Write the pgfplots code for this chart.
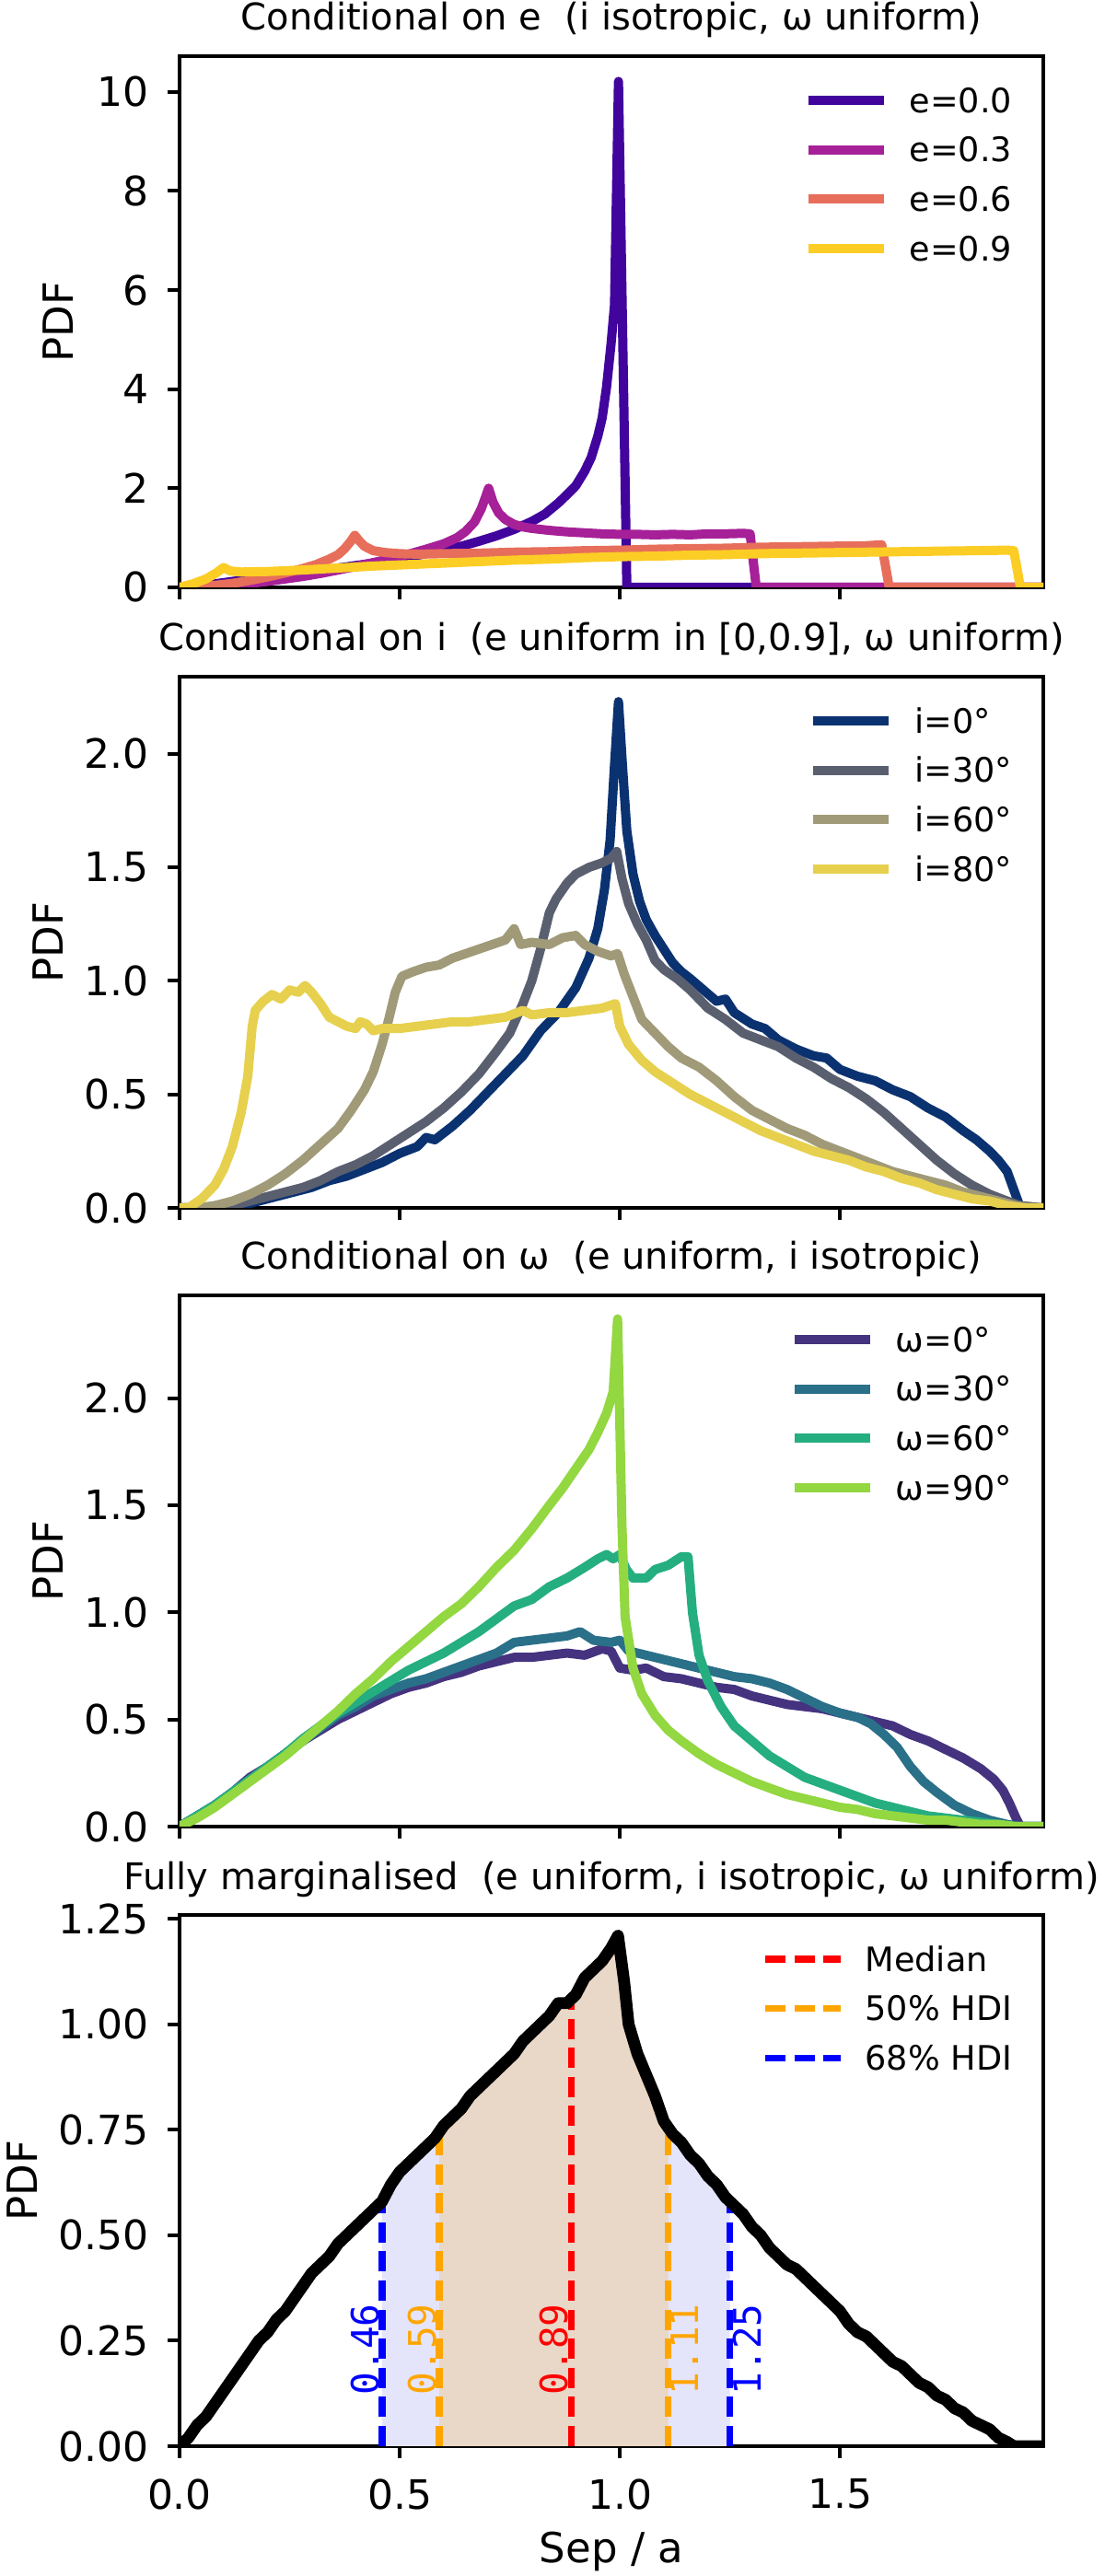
\documentclass[border=0pt]{standalone}
\usepackage{fontspec}
\setmainfont{DejaVu Sans}
\newfontfamily\monofont{DejaVu Sans Mono}
\usepackage{pgfplots}
\usepackage{pgfplotstable}
\pgfplotsset{compat=1.18}

% plasma / cividis / viridis samples
\definecolor{pA}{HTML}{41049D}
\definecolor{pB}{HTML}{A62098}
\definecolor{pC}{HTML}{E76E5A}
\definecolor{pD}{HTML}{FCCD25}
\definecolor{cA}{HTML}{0B3270}
\definecolor{cB}{HTML}{5A5F70}
\definecolor{cC}{HTML}{A09A78}
\definecolor{cD}{HTML}{E6D04D}
\definecolor{vA}{HTML}{45337F}
\definecolor{vB}{HTML}{2A7089}
\definecolor{vC}{HTML}{25AE80}
\definecolor{vD}{HTML}{93D741}
\definecolor{hdiblue}{HTML}{E4E4FB}
\definecolor{hditan}{HTML}{E9D7C7}
\definecolor{mplorange}{HTML}{FFA500}

% ---------- conditional on e ----------
\pgfplotstableread{
x y
0.000 0.00
0.040 0.03
0.080 0.07
0.120 0.12
0.160 0.16
0.200 0.20
0.240 0.25
0.280 0.29
0.320 0.34
0.360 0.39
0.400 0.44
0.440 0.49
0.480 0.55
0.520 0.61
0.560 0.68
0.600 0.75
0.640 0.83
0.680 0.93
0.720 1.04
0.760 1.17
0.800 1.33
0.830 1.48
0.860 1.70
0.880 1.87
0.900 2.05
0.920 2.34
0.935 2.62
0.950 3.05
0.960 3.42
0.970 4.05
0.980 4.90
0.988 5.70
0.997 10.21
1.016 0.00
1.962 0.00
}\eA
\pgfplotstableread{
x y
0.000 0.00
0.040 0.01
0.080 0.03
0.120 0.05
0.160 0.08
0.200 0.12
0.240 0.17
0.280 0.22
0.320 0.28
0.360 0.35
0.400 0.42
0.440 0.50
0.480 0.58
0.520 0.67
0.560 0.77
0.600 0.88
0.630 1.00
0.650 1.13
0.670 1.32
0.685 1.58
0.695 1.82
0.702 2.00
0.712 1.72
0.725 1.50
0.740 1.37
0.760 1.27
0.780 1.22
0.800 1.19
0.840 1.15
0.880 1.12
0.920 1.10
0.960 1.08
1.000 1.07
1.040 1.07
1.080 1.06
1.120 1.07
1.160 1.06
1.200 1.08
1.240 1.08
1.280 1.09
1.296 1.08
1.310 0.00
1.962 0.00
}\eB
\pgfplotstableread{
x y
0.000 0.00
0.040 0.01
0.080 0.04
0.120 0.08
0.160 0.14
0.200 0.21
0.240 0.29
0.280 0.38
0.310 0.46
0.340 0.57
0.360 0.66
0.375 0.78
0.388 0.92
0.398 1.05
0.408 0.94
0.420 0.83
0.440 0.74
0.470 0.70
0.500 0.68
0.540 0.67
0.600 0.68
0.680 0.69
0.760 0.71
0.840 0.72
0.920 0.74
1.000 0.75
1.080 0.77
1.160 0.78
1.240 0.79
1.320 0.81
1.400 0.82
1.480 0.83
1.560 0.84
1.595 0.86
1.612 0.00
1.962 0.00
}\eC
\pgfplotstableread{
x y
0.000 0.00
0.030 0.07
0.060 0.17
0.085 0.30
0.100 0.40
0.115 0.33
0.140 0.31
0.200 0.32
0.280 0.35
0.360 0.39
0.440 0.43
0.520 0.46
0.600 0.49
0.680 0.52
0.760 0.55
0.840 0.57
0.920 0.60
1.000 0.62
1.080 0.63
1.160 0.65
1.240 0.66
1.320 0.68
1.400 0.69
1.480 0.70
1.560 0.71
1.640 0.72
1.720 0.73
1.800 0.74
1.880 0.75
1.895 0.74
1.910 0.00
1.962 0.00
}\eD

% ---------- conditional on i ----------
\pgfplotstableread{
x y
0.000 0.00
0.100 0.00
0.140 0.01
0.180 0.03
0.220 0.05
0.260 0.07
0.300 0.09
0.340 0.12
0.380 0.14
0.420 0.17
0.460 0.20
0.500 0.24
0.540 0.27
0.560 0.31
0.580 0.30
0.620 0.36
0.660 0.43
0.700 0.51
0.740 0.59
0.780 0.67
0.820 0.78
0.860 0.86
0.900 0.97
0.930 1.10
0.950 1.23
0.965 1.40
0.978 1.62
0.988 1.95
0.997 2.23
1.006 1.95
1.016 1.66
1.030 1.47
1.045 1.35
1.060 1.27
1.080 1.20
1.100 1.14
1.120 1.08
1.140 1.04
1.160 1.01
1.190 0.96
1.220 0.91
1.240 0.92
1.260 0.86
1.300 0.81
1.330 0.79
1.360 0.74
1.400 0.70
1.440 0.67
1.470 0.66
1.500 0.61
1.540 0.58
1.580 0.56
1.620 0.52
1.660 0.49
1.700 0.44
1.740 0.40
1.780 0.34
1.810 0.30
1.840 0.25
1.860 0.21
1.880 0.16
1.895 0.08
1.910 0.00
1.962 0.00
}\iA
\pgfplotstableread{
x y
0.000 0.00
0.080 0.00
0.120 0.01
0.160 0.03
0.200 0.05
0.240 0.07
0.280 0.09
0.320 0.12
0.360 0.16
0.400 0.19
0.440 0.23
0.480 0.28
0.520 0.33
0.560 0.38
0.600 0.44
0.640 0.51
0.680 0.59
0.720 0.69
0.750 0.77
0.780 0.90
0.800 1.00
0.820 1.14
0.840 1.30
0.855 1.36
0.880 1.43
0.900 1.47
0.930 1.50
0.960 1.52
0.980 1.54
0.993 1.57
1.005 1.45
1.020 1.34
1.040 1.25
1.060 1.18
1.080 1.09
1.100 1.05
1.130 1.01
1.160 0.96
1.200 0.88
1.240 0.83
1.280 0.77
1.320 0.74
1.360 0.71
1.400 0.66
1.440 0.62
1.480 0.57
1.520 0.53
1.560 0.48
1.600 0.42
1.640 0.35
1.680 0.28
1.720 0.21
1.760 0.15
1.800 0.10
1.840 0.06
1.880 0.03
1.910 0.01
1.962 0.00
}\iB
\pgfplotstableread{
x y
0.000 0.00
0.040 0.00
0.080 0.01
0.120 0.03
0.160 0.06
0.200 0.10
0.240 0.15
0.280 0.21
0.320 0.28
0.360 0.35
0.390 0.43
0.420 0.52
0.440 0.60
0.460 0.72
0.475 0.83
0.490 0.95
0.505 1.02
0.530 1.04
0.560 1.06
0.590 1.07
0.620 1.10
0.650 1.12
0.680 1.14
0.710 1.16
0.740 1.18
0.760 1.23
0.775 1.16
0.800 1.17
0.840 1.16
0.870 1.19
0.900 1.20
0.920 1.16
0.950 1.13
0.980 1.11
0.995 1.12
1.010 1.03
1.030 0.93
1.050 0.83
1.080 0.77
1.110 0.71
1.140 0.66
1.180 0.62
1.220 0.56
1.260 0.49
1.300 0.43
1.340 0.39
1.380 0.35
1.420 0.32
1.460 0.28
1.500 0.25
1.540 0.22
1.580 0.19
1.620 0.16
1.660 0.14
1.700 0.12
1.740 0.10
1.780 0.07
1.820 0.05
1.860 0.03
1.900 0.01
1.930 0.00
1.962 0.00
}\iC
\pgfplotstableread{
x y
0.000 0.00
0.020 0.00
0.050 0.04
0.080 0.10
0.100 0.17
0.120 0.27
0.140 0.42
0.155 0.58
0.165 0.80
0.172 0.87
0.190 0.91
0.210 0.94
0.230 0.92
0.250 0.96
0.270 0.95
0.285 0.98
0.300 0.95
0.320 0.90
0.340 0.84
0.360 0.82
0.380 0.80
0.400 0.79
0.410 0.82
0.425 0.81
0.440 0.78
0.460 0.79
0.500 0.79
0.540 0.80
0.580 0.81
0.620 0.82
0.660 0.82
0.700 0.83
0.740 0.84
0.780 0.87
0.800 0.85
0.840 0.86
0.880 0.86
0.920 0.87
0.960 0.88
0.990 0.90
1.000 0.80
1.020 0.72
1.050 0.65
1.080 0.60
1.120 0.55
1.160 0.50
1.200 0.46
1.240 0.42
1.280 0.38
1.320 0.34
1.360 0.31
1.400 0.28
1.440 0.25
1.480 0.23
1.520 0.21
1.560 0.18
1.600 0.16
1.640 0.13
1.680 0.11
1.720 0.08
1.760 0.06
1.800 0.04
1.840 0.03
1.880 0.01
1.920 0.00
1.962 0.00
}\iD

% ---------- conditional on omega ----------
\pgfplotstableread{
x y
0.000 0.00
0.040 0.05
0.080 0.10
0.120 0.16
0.160 0.23
0.200 0.28
0.240 0.34
0.280 0.40
0.320 0.45
0.360 0.50
0.400 0.54
0.440 0.58
0.480 0.62
0.520 0.65
0.560 0.67
0.600 0.70
0.640 0.72
0.680 0.75
0.720 0.77
0.760 0.79
0.800 0.79
0.840 0.80
0.880 0.81
0.920 0.80
0.960 0.83
0.980 0.82
1.000 0.74
1.030 0.73
1.060 0.74
1.100 0.70
1.140 0.69
1.180 0.67
1.220 0.65
1.260 0.64
1.300 0.61
1.340 0.59
1.380 0.57
1.420 0.56
1.460 0.55
1.500 0.53
1.540 0.51
1.580 0.49
1.620 0.47
1.660 0.43
1.700 0.40
1.740 0.36
1.780 0.32
1.820 0.27
1.850 0.22
1.870 0.17
1.885 0.11
1.900 0.04
1.910 0.00
1.962 0.00
}\wA
\pgfplotstableread{
x y
0.000 0.00
0.040 0.05
0.080 0.10
0.120 0.16
0.160 0.22
0.200 0.28
0.240 0.34
0.280 0.40
0.320 0.46
0.360 0.52
0.400 0.56
0.440 0.61
0.480 0.64
0.520 0.67
0.560 0.69
0.600 0.72
0.640 0.75
0.680 0.78
0.720 0.81
0.760 0.86
0.800 0.87
0.840 0.88
0.880 0.89
0.910 0.91
0.940 0.87
0.980 0.86
1.000 0.87
1.020 0.82
1.060 0.80
1.100 0.78
1.140 0.76
1.180 0.74
1.220 0.72
1.260 0.70
1.300 0.69
1.340 0.67
1.380 0.64
1.420 0.60
1.460 0.56
1.500 0.53
1.540 0.51
1.570 0.48
1.600 0.43
1.630 0.37
1.660 0.28
1.690 0.21
1.720 0.16
1.760 0.10
1.800 0.06
1.840 0.03
1.880 0.01
1.910 0.00
1.962 0.00
}\wB
\pgfplotstableread{
x y
0.000 0.00
0.040 0.05
0.080 0.10
0.120 0.16
0.160 0.22
0.200 0.28
0.240 0.34
0.280 0.41
0.320 0.47
0.360 0.53
0.400 0.58
0.440 0.63
0.480 0.68
0.520 0.73
0.560 0.77
0.600 0.81
0.640 0.86
0.680 0.91
0.720 0.97
0.760 1.03
0.800 1.06
0.840 1.12
0.880 1.16
0.920 1.21
0.950 1.25
0.970 1.27
0.985 1.25
1.000 1.27
1.015 1.20
1.030 1.16
1.060 1.16
1.080 1.20
1.110 1.22
1.140 1.26
1.155 1.26
1.165 1.00
1.180 0.80
1.200 0.68
1.230 0.56
1.260 0.47
1.300 0.40
1.340 0.33
1.380 0.28
1.420 0.23
1.460 0.20
1.500 0.17
1.540 0.14
1.580 0.11
1.620 0.09
1.660 0.07
1.700 0.05
1.740 0.04
1.780 0.03
1.820 0.02
1.860 0.01
1.900 0.00
1.962 0.00
}\wC
\pgfplotstableread{
x y
0.000 0.00
0.040 0.04
0.080 0.09
0.120 0.15
0.160 0.21
0.200 0.27
0.240 0.33
0.280 0.40
0.320 0.47
0.360 0.54
0.400 0.62
0.440 0.69
0.480 0.77
0.520 0.84
0.560 0.91
0.600 0.98
0.640 1.04
0.680 1.12
0.720 1.21
0.760 1.29
0.800 1.39
0.840 1.50
0.870 1.58
0.900 1.67
0.930 1.76
0.950 1.84
0.970 1.93
0.985 2.03
0.995 2.37
1.005 1.40
1.012 0.98
1.030 0.74
1.050 0.62
1.080 0.52
1.110 0.45
1.140 0.40
1.180 0.34
1.220 0.29
1.260 0.25
1.300 0.21
1.340 0.18
1.380 0.15
1.420 0.13
1.460 0.11
1.500 0.09
1.540 0.08
1.580 0.06
1.620 0.05
1.660 0.04
1.700 0.03
1.740 0.03
1.780 0.02
1.820 0.01
1.860 0.01
1.900 0.00
1.962 0.00
}\wD

% ---------- fully marginalised ----------
\pgfplotstableread{
x y
0.000 0.00
0.020 0.02
0.040 0.05
0.060 0.07
0.080 0.10
0.100 0.13
0.120 0.16
0.140 0.19
0.160 0.22
0.180 0.25
0.200 0.27
0.220 0.30
0.240 0.32
0.260 0.35
0.280 0.38
0.300 0.41
0.320 0.43
0.340 0.45
0.360 0.48
0.380 0.50
0.400 0.52
0.420 0.54
0.440 0.56
0.460 0.58
0.480 0.62
0.500 0.65
0.520 0.67
0.540 0.69
0.560 0.71
0.580 0.73
0.590 0.745
0.600 0.76
0.620 0.78
0.640 0.80
0.660 0.83
0.680 0.85
0.700 0.87
0.720 0.89
0.740 0.91
0.760 0.93
0.780 0.96
0.800 0.98
0.820 1.00
0.840 1.02
0.860 1.05
0.880 1.05
0.900 1.07
0.920 1.11
0.940 1.13
0.960 1.15
0.980 1.18
0.996 1.21
1.010 1.10
1.020 1.00
1.040 0.93
1.060 0.88
1.080 0.83
1.100 0.77
1.110 0.755
1.120 0.74
1.140 0.72
1.160 0.69
1.180 0.67
1.200 0.64
1.220 0.62
1.240 0.59
1.250 0.58
1.260 0.57
1.280 0.55
1.300 0.52
1.320 0.50
1.340 0.47
1.360 0.45
1.380 0.43
1.400 0.42
1.420 0.40
1.440 0.38
1.460 0.36
1.480 0.34
1.500 0.32
1.520 0.29
1.540 0.27
1.560 0.26
1.580 0.24
1.600 0.22
1.620 0.20
1.640 0.19
1.660 0.17
1.680 0.15
1.700 0.14
1.720 0.12
1.740 0.11
1.760 0.09
1.780 0.08
1.800 0.06
1.820 0.05
1.840 0.04
1.860 0.02
1.880 0.01
1.895 0.00
1.962 0.00
}\marg

\pgfplotsset{
  sepaxis/.style={
    scale only axis, width=234.5pt, height=144.25pt,
    anchor=south west,
    xmin=0, xmax=1.962, ymin=0,
    axis line style={line width=1pt},
    every tick/.style={black, line width=1pt},
    tick align=outside, major tick length=3.25pt,
    xtick pos=bottom, ytick pos=left,
    xtick={0,0.5,1,1.5},
    tick label style={font=\fontsize{11}{13}\selectfont},
    /pgf/number format/assume math mode=true,
    xticklabel style={/pgf/number format/fixed, /pgf/number format/fixed zerofill,
      /pgf/number format/precision=1, anchor=north, inner sep=0pt, yshift=-5.5pt},
    yticklabel style={anchor=east, inner sep=0pt, xshift=-5pt},
    ylabel=PDF,
    ylabel style={font=\fontsize{11.25}{13}\selectfont, anchor=center},
    every axis title/.style={font=\fontsize{10}{12}\selectfont, at={(0.5,1)}, anchor=base, yshift=7pt},
    legend cell align=left,
    legend style={at={(0.9638,0.9445)}, anchor=north east, draw=none, fill=none,
      inner sep=0pt, outer sep=0pt, row sep=5.48pt, column sep=5.75pt,
      font=\fontsize{9.15}{11}\selectfont,
      nodes={inner sep=0pt, text height=7.3pt, text depth=0.65pt}},
    legend image code/.code={\draw[##1] (0pt,0pt) -- (20.5pt,0pt);},
  },
  curve/.style={line width=2.5pt, line join=round, #1},
  onedec/.style={yticklabel style={/pgf/number format/fixed, /pgf/number format/fixed zerofill, /pgf/number format/precision=1}},
  twodec/.style={yticklabel style={/pgf/number format/fixed, /pgf/number format/fixed zerofill, /pgf/number format/precision=2}},
  hdi/.style={line width=1.8pt, dash pattern=on 5.5pt off 2.4pt, #1},
}

\begin{document}
\begin{tikzpicture}
\useasboundingbox (0,0) rectangle (300pt,699.5pt);

% ---- panel 1 ----
\begin{axis}[sepaxis, at={(48.75pt,540pt)},
  ymax=10.72, ytick={0,2,4,6,8,10}, xticklabels={},
  ylabel style={at={(axis description cs:-0.1407,0.5)}},
  title={Conditional on e\ \ (i isotropic, ω uniform)}]
\addplot[curve=pA] table {\eA}; \addlegendentry{e=0.0}
\addplot[curve=pB] table {\eB}; \addlegendentry{e=0.3}
\addplot[curve=pC] table {\eC}; \addlegendentry{e=0.6}
\addplot[curve=pD] table {\eD}; \addlegendentry{e=0.9}
\end{axis}

% ---- panel 2 ----
\begin{axis}[sepaxis, onedec, at={(48.75pt,371.5pt)},
  ymax=2.34, ytick={0,0.5,1,1.5,2}, xticklabels={},
  ylabel style={at={(axis description cs:-0.1525,0.5)}},
  title={Conditional on i\ \ (e uniform in [0,0.9], ω uniform)}]
\addplot[curve=cA] table {\iA}; \addlegendentry{i=0°}
\addplot[curve=cB] table {\iB}; \addlegendentry{i=30°}
\addplot[curve=cC] table {\iC}; \addlegendentry{i=60°}
\addplot[curve=cD] table {\iD}; \addlegendentry{i=80°}
\end{axis}

% ---- panel 3 ----
\begin{axis}[sepaxis, onedec, at={(48.75pt,203.5pt)},
  ymax=2.48, ytick={0,0.5,1,1.5,2}, xticklabels={},
  ylabel style={at={(axis description cs:-0.1525,0.5)}},
  title={Conditional on ω\ \ (e uniform, i isotropic)}]
\addplot[curve=vA] table {\wA}; \addlegendentry{ω=0°}
\addplot[curve=vB] table {\wB}; \addlegendentry{ω=30°}
\addplot[curve=vC] table {\wC}; \addlegendentry{ω=60°}
\addplot[curve=vD] table {\wD}; \addlegendentry{ω=90°}
\end{axis}

% ---- panel 4 ----
\begin{axis}[sepaxis, twodec, at={(48.75pt,35.25pt)},
  ymax=1.259, ytick={0,0.25,0.5,0.75,1,1.25},
  ylabel style={at={(axis description cs:-0.182,0.5)}},
  xlabel={Sep / a},
  xlabel style={font=\fontsize{11.25}{13}\selectfont, at={(axis description cs:0.5,0)}, anchor=base, yshift=-31.75pt},
  title={Fully marginalised\ \ (e uniform, i isotropic, ω uniform)}]
% shaded credible intervals under the curve
\addplot[fill=hdiblue, draw=none, forget plot] table[restrict x to domain=0.46:1.25] {\marg} \closedcycle;
\addplot[fill=hditan, draw=none, forget plot] table[restrict x to domain=0.59:1.11] {\marg} \closedcycle;
\addplot[hdi=red] coordinates {(0.89,0) (0.89,1.05)}; \addlegendentry{Median}
\addplot[hdi=mplorange] coordinates {(0.59,0) (0.59,0.745)}; \addlegendentry{50\% HDI}
\addplot[hdi=mplorange, forget plot] coordinates {(1.11,0) (1.11,0.755)};
\addplot[hdi=blue] coordinates {(0.46,0) (0.46,0.58)}; \addlegendentry{68\% HDI}
\addplot[hdi=blue, forget plot] coordinates {(1.25,0) (1.25,0.58)};
\addplot[line width=3.2pt, line join=round, black, forget plot] table {\marg};
\begin{scope}[every node/.style={font=\monofont\fontsize{10.25}{12}\selectfont, inner sep=0pt, rotate=90}]
\node[blue, anchor=south west] at (axis cs:0.455,0.12) {0.46};
\node[mplorange, anchor=south west] at (axis cs:0.585,0.12) {0.59};
\node[red, anchor=south west] at (axis cs:0.885,0.12) {0.89};
\node[mplorange, anchor=north west] at (axis cs:1.115,0.12) {1.11};
\node[blue, anchor=north west] at (axis cs:1.255,0.12) {1.25};
\end{scope}
\end{axis}
\end{tikzpicture}
\end{document}
